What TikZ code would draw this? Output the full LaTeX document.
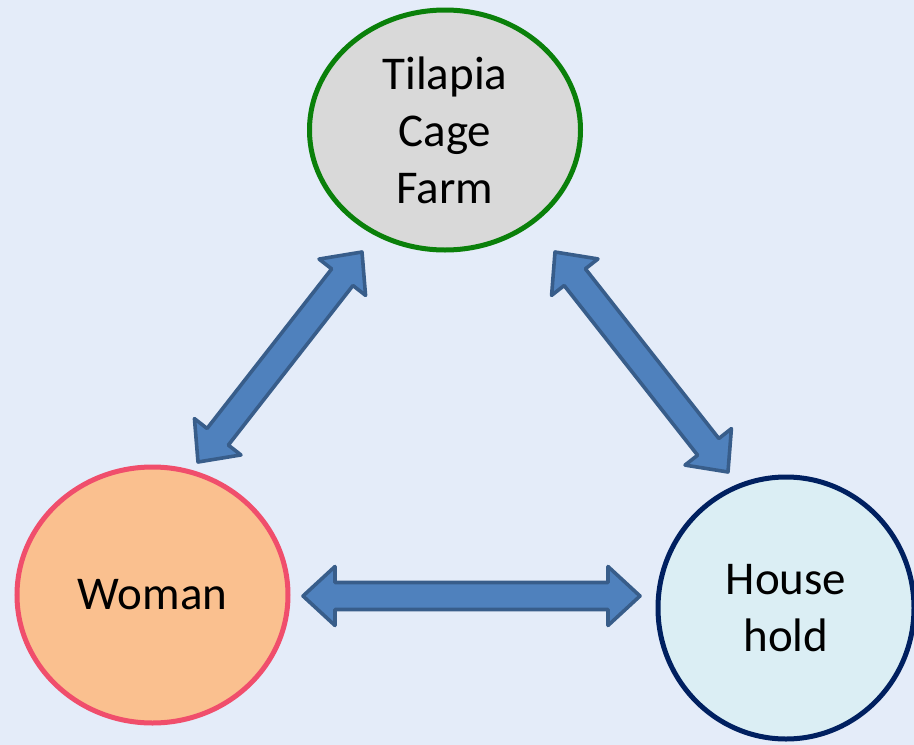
\documentclass[tikz,border=0pt]{standalone}
\usepackage{fontspec}
\setmainfont{Carlito}
\usetikzlibrary{calc,shapes.geometric}
\definecolor{bgc}{RGB}{228,236,249}
\definecolor{grayfill}{RGB}{217,217,217}
\definecolor{greenline}{RGB}{10,128,10}
\definecolor{peach}{RGB}{250,192,143}
\definecolor{pinkline}{RGB}{240,78,108}
\definecolor{lightblue}{RGB}{219,238,244}
\definecolor{navy}{RGB}{0,32,96}
\definecolor{arrowfill}{RGB}{79,129,189}
\definecolor{arrowline}{RGB}{56,93,138}
\tikzset{
  bubble/.style={ellipse, line width=5pt, align=center, inner sep=0pt, font=\fontsize{47}{57}\selectfont, text=black},
  barrow/.style={fill=arrowfill, draw=arrowline, line width=3.6pt, line join=round},
}
\newcommand{\blockarrow}[2]{%
  \draw[barrow] let \p1=($(#2)-(#1)$), \n1={atan2(\y1,\x1)} in
  (#1) -- ($(#1)+(\n1:32pt)+(\n1+90:29.5pt)$) -- ($(#1)+(\n1:32pt)+(\n1+90:13.5pt)$)
  -- ($(#2)+(\n1:-32pt)+(\n1+90:13.5pt)$) -- ($(#2)+(\n1:-32pt)+(\n1+90:29.5pt)$)
  -- (#2) -- ($(#2)+(\n1:-32pt)+(\n1-90:29.5pt)$) -- ($(#2)+(\n1:-32pt)+(\n1-90:13.5pt)$)
  -- ($(#1)+(\n1:32pt)+(\n1-90:13.5pt)$) -- ($(#1)+(\n1:32pt)+(\n1-90:29.5pt)$) -- cycle;}
\begin{document}
\begin{tikzpicture}[x=1pt,y=-1pt]
\fill[bgc] (0,0) rectangle (914,745);
\useasboundingbox (0,0) rectangle (914,745);
% nodes
\node[bubble, draw=greenline, fill=grayfill, minimum width=271pt, minimum height=240pt] (farm) at (445,130) {Tilapia\\Cage\\Farm};
\node[bubble, draw=pinkline, fill=peach, minimum width=271pt, minimum height=256pt] (woman) at (152.5,595) {Woman};
\node[bubble, draw=navy, fill=lightblue, minimum width=256pt, minimum height=262pt] (house) at (786,608) {House\\hold};
% arrow ends
\coordinate (a1) at (198,462);
\coordinate (a2) at (362,252);
\coordinate (b1) at (555,252);
\coordinate (b2) at (728,472);
\coordinate (c1) at (303,596);
\coordinate (c2) at (640,596);
\blockarrow{a1}{a2}
\blockarrow{b1}{b2}
\blockarrow{c1}{c2}
\end{tikzpicture}
\end{document}
